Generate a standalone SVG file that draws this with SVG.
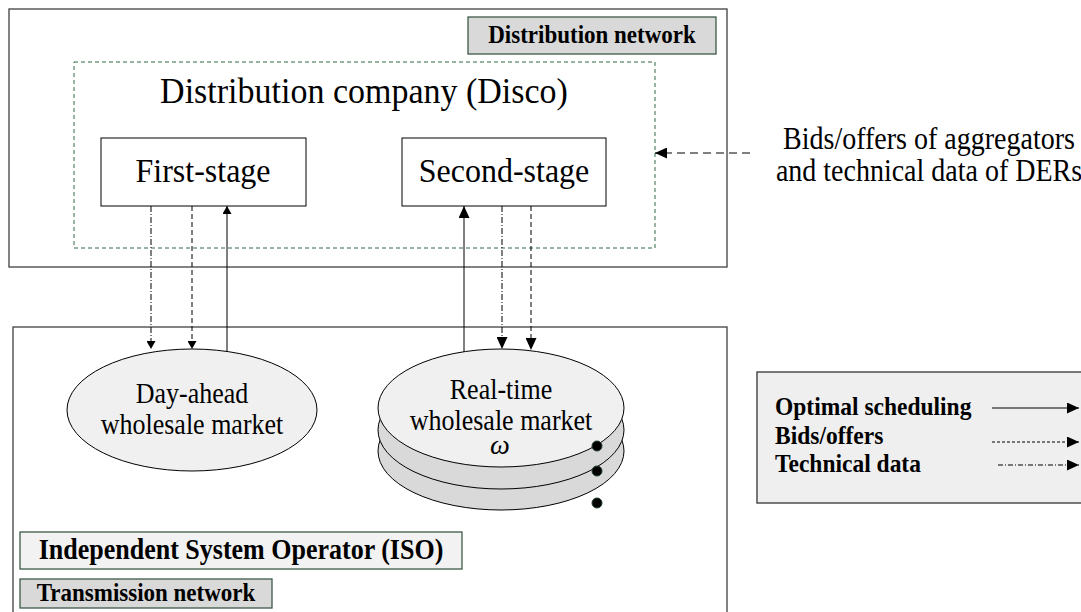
<svg xmlns="http://www.w3.org/2000/svg" width="1081" height="612" viewBox="0 0 1081 612">
<defs>
<style>
.frame{fill:#fff;stroke:#404040;stroke-width:1.3}
.lbl{stroke:#3d5a47;stroke-width:1.3}
.t{font-family:"Liberation Serif","Times New Roman",serif;fill:#000;text-anchor:middle}
.l{text-anchor:start}
.b{font-weight:bold}
.ln{stroke:#000;stroke-width:1;fill:none}
.dash{stroke-dasharray:5 3}
.dd{stroke-dasharray:6 2 1 2}
</style>
<marker id="ah" viewBox="0 0 10 10" refX="10" refY="5" markerWidth="8" markerHeight="9" markerUnits="userSpaceOnUse" orient="auto" preserveAspectRatio="none"><path d="M0,0 L10,5 L0,10 z" fill="#000"/></marker>
<marker id="ahL" viewBox="0 0 10 10" refX="10" refY="5" markerWidth="12" markerHeight="11" markerUnits="userSpaceOnUse" orient="auto" preserveAspectRatio="none"><path d="M0,0 L10,5 L0,10 z" fill="#000"/></marker>
</defs>
<rect width="1081" height="612" fill="#fff"/>

<g id="distribution-network">
<rect class="frame" x="9" y="9" width="718" height="258"/>
<rect class="lbl" x="468" y="17" width="248" height="37" fill="#d9d9d9"/>
<text class="t b" transform="translate(592 43) scale(1 1.1)" font-size="23">Distribution network</text>
</g>

<g id="iso">
<rect class="frame" x="13" y="327" width="714" height="300"/>
<rect class="lbl" x="20" y="532" width="442" height="37" fill="#f2f2f2"/>
<text class="t b" transform="translate(241 559) scale(1 1.1)" font-size="26">Independent System Operator (ISO)</text>
<rect class="lbl" x="20" y="579" width="252" height="29" fill="#d9d9d9"/>
<text class="t b" transform="translate(146 601) scale(1 1.1)" font-size="23">Transmission network</text>
</g>

<g id="disco">
<rect x="74" y="62" width="581" height="186" fill="none" stroke="#2f6a45" stroke-width="1" stroke-dasharray="4 3"/>
<text class="t" transform="translate(364 103) scale(1 1.08)" font-size="34">Distribution company (Disco)</text>
</g>

<g id="first-stage">
<rect x="101" y="138" width="205" height="68" fill="#fff" stroke="#000" stroke-width="1"/>
<text class="t" transform="translate(203 182) scale(1 1.08)" font-size="32">First-stage</text>
</g>

<g id="second-stage">
<rect x="402" y="138" width="204" height="68" fill="#fff" stroke="#000" stroke-width="1"/>
<text class="t" transform="translate(504 182) scale(1 1.08)" font-size="32">Second-stage</text>
</g>

<g id="day-ahead">
<ellipse cx="192" cy="410" rx="125" ry="61" fill="#f0f0f0" stroke="#000" stroke-width="1"/>
<text class="t" transform="translate(192 403) scale(1 1.12)" font-size="26">Day-ahead</text>
<text class="t" transform="translate(192 434) scale(1 1.12)" font-size="26">wholesale market</text>
</g>

<g id="real-time">
<ellipse cx="501" cy="451" rx="123" ry="59" fill="#d9d9d9" stroke="#000" stroke-width="1"/>
<ellipse cx="501" cy="430" rx="123" ry="59" fill="#d9d9d9" stroke="#000" stroke-width="1"/>
<ellipse cx="501" cy="408" rx="123" ry="59" fill="#f0f0f0" stroke="#000" stroke-width="1"/>
<text class="t" transform="translate(501 399) scale(1 1.12)" font-size="26">Real-time</text>
<text class="t" transform="translate(501 430) scale(1 1.12)" font-size="26">wholesale market</text>
<text class="t" x="500" y="454" font-size="28" font-style="italic">ω</text>
<circle cx="597" cy="446" r="5" fill="#000" stroke="#1e3d2a"/>
<circle cx="597" cy="471" r="5" fill="#000" stroke="#1e3d2a"/>
<circle cx="597" cy="503" r="5" fill="#000" stroke="#1e3d2a"/>
</g>

<g id="external-input">
<text class="t" transform="translate(929 149) scale(1 1.1)" font-size="28">Bids/offers of aggregators</text>
<text class="t" transform="translate(929 181) scale(1 1.1)" font-size="28">and technical data of DERs</text>
</g>

<g id="legend">
<rect x="757" y="372" width="340" height="131" fill="#efefef" stroke="#333" stroke-width="1.3"/>
<text class="t b l" transform="translate(775 415) scale(1 1.1)" font-size="23.5">Optimal scheduling</text>
<text class="t b l" transform="translate(775 444) scale(1 1.1)" font-size="23.5">Bids/offers</text>
<text class="t b l" transform="translate(775 472) scale(1 1.1)" font-size="23.5">Technical data</text>
<line class="ln" x1="992" y1="408" x2="1079" y2="408" marker-end="url(#ahL)"/>
<line class="ln" x1="992" y1="442" x2="1079" y2="442" stroke-dasharray="3 2" marker-end="url(#ahL)"/>
<line class="ln" x1="998" y1="465" x2="1079" y2="465" stroke-dasharray="5 2 1 2" marker-end="url(#ahL)"/>
</g>

<g id="connectors">
<line class="ln dd" x1="151" y1="206" x2="151" y2="349" marker-end="url(#ah)"/>
<line class="ln dash" x1="192" y1="206" x2="192" y2="349" marker-end="url(#ah)"/>
<line class="ln" x1="227" y1="352" x2="227" y2="206" marker-end="url(#ah)"/>
<line class="ln" x1="464" y1="352" x2="464" y2="206" marker-end="url(#ahL)"/>
<line class="ln dd" x1="502" y1="206" x2="502" y2="349" marker-end="url(#ahL)"/>
<line class="ln dash" x1="531" y1="206" x2="531" y2="350" marker-end="url(#ahL)"/>
<line class="ln" x1="750" y1="153" x2="655" y2="153" stroke-dasharray="8 5" marker-end="url(#ahL)"/>
</g>
</svg>
